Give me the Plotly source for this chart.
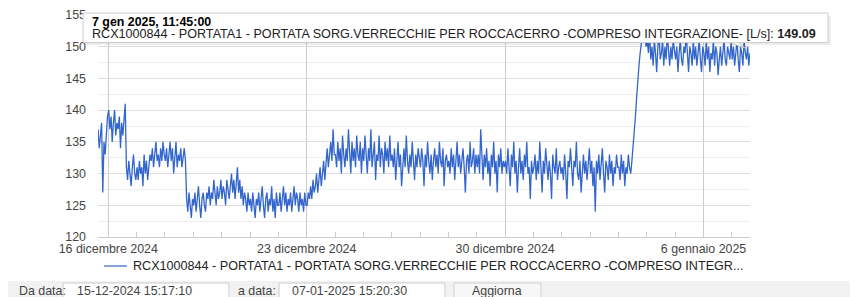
import plotly.graph_objects as go
import pandas as pd

# ---- data (hourly readings, L/s) ----
dic15 = [137, 134, 136, 138, 127, 135, 133, 136, 139]
dic16 = [140, 137, 139, 135, 138, 140, 136, 138, 137, 139, 134, 138, 136, 139, 141,
         131, 129, 132, 130, 128, 131, 133, 130, 129]
dic17 = [131, 129, 132, 130, 131, 128, 133, 130, 132, 129, 131, 133, 132, 134, 131, 133,
         135, 132, 133, 131, 134, 132, 135, 133]
dic18 = [132, 134, 131, 133, 135, 132, 134, 130, 133, 135, 131, 133, 132, 134, 131, 133,
         134, 132, 126, 124, 127, 125, 123, 126]
dic19 = [125, 127, 124, 126, 128, 125, 123, 126, 127, 125, 124, 127, 126, 128, 125, 127,
         126, 129, 127, 125, 128, 126, 127, 129]
dic20 = [126, 128, 127, 125, 129, 127, 126, 128, 130, 127, 129, 126, 128, 131, 127, 129,
         126, 128, 125, 127, 126, 124, 127, 125]
dic21 = [126, 124, 127, 125, 123, 126, 125, 127, 124, 126, 128, 125, 123, 126, 127, 124,
         126, 125, 128, 124, 126, 123, 127, 125]
dic22 = [125, 127, 124, 126, 128, 125, 127, 124, 126, 125, 127, 124, 126, 128, 125, 127,
         126, 124, 127, 125, 126, 124, 127, 125]
dic23 = [125, 127, 126, 128, 126, 129, 127, 128, 130, 127, 129, 131, 128, 130, 132, 129,
         131, 134, 131, 133, 135, 132, 137, 133]
dic24 = [133, 131, 135, 132, 134, 130, 136, 133, 131, 134, 132, 137, 133, 130, 135, 132,
         134, 131, 136, 133, 132, 135, 130, 134]
dic25 = [132, 136, 133, 130, 134, 132, 137, 131, 133, 135, 129, 133, 132, 136, 131, 134,
         133, 130, 135, 132, 134, 131, 136, 132]
dic26 = [133, 131, 134, 129, 132, 135, 131, 133, 128, 132, 134, 131, 136, 132, 130, 133,
         131, 135, 132, 129, 133, 131, 134, 132]
dic27 = [131, 134, 132, 128, 133, 131, 135, 132, 130, 133, 129, 132, 134, 131, 133, 130,
         135, 132, 131, 134, 128, 132, 133, 131]
dic28 = [132, 130, 134, 131, 133, 129, 132, 135, 131, 133, 130, 132, 134, 131, 127, 132,
         133, 130, 135, 131, 132, 134, 130, 133]
dic29 = [131, 133, 130, 137, 132, 129, 133, 131, 134, 130, 132, 128, 133, 131, 135, 130,
         132, 127, 133, 131, 134, 130, 132, 131]
dic30 = [132, 130, 134, 131, 128, 133, 131, 135, 130, 132, 127, 131, 134, 130, 132, 129,
         133, 131, 135, 130, 131, 126, 132, 130]
dic31 = [131, 133, 129, 132, 130, 135, 131, 127, 132, 130, 134, 131, 129, 132, 130, 126,
         133, 131, 130, 134, 129, 131, 132, 130]
gen01 = [131, 129, 133, 130, 126, 132, 131, 134, 130, 128, 132, 131, 135, 130, 129, 132,
         127, 131, 133, 130, 132, 129, 131, 134]
gen02 = [130, 132, 128, 131, 124, 132, 130, 133, 129, 131, 134, 130, 127, 132, 131, 129,
         133, 130, 132, 128, 131, 130, 133, 131]
gen03 = [131, 129, 133, 130, 132, 128, 131, 130, 133, 131, 130, 132, 134, 137, 139, 142,
         145, 147, 149, 151, 152, 151, 152, 150]
gen04 = [151, 149, 152, 148, 150, 147, 151, 149, 146, 150, 152, 148, 149, 151, 147, 150,
         148, 152, 149, 147, 150, 148, 151, 149]
gen05 = [148, 150, 146, 149, 151, 148, 147, 150, 149, 152, 148, 146, 150, 149, 147, 151,
         148, 150, 147, 149, 151, 148, 146, 150]
gen06 = [149, 147, 151, 148, 150, 146, 149, 148, 151, 147, 150, 149, 145.5, 148, 150, 147,
         149, 151, 148, 147, 150, 149, 148, 151]
gen07 = [148, 150, 147, 149, 151, 148, 146, 150, 149, 147, 151, 149.09, 148, 150, 147, 149]

portata = (dic15 + dic16 + dic17 + dic18 + dic19 + dic20 + dic21 + dic22 + dic23 + dic24 +
           dic25 + dic26 + dic27 + dic28 + dic29 + dic30 + dic31 + gen01 + gen02 + gen03 +
           gen04 + gen05 + gen06 + gen07)
tempi = pd.date_range("2024-12-15 15:20", periods=len(portata), freq="h")

tick_vals = ["2024-12-16", "2024-12-23", "2024-12-30", "2025-01-06"]
tick_text = ["16 dicembre 2024", "23 dicembre 2024", "30 dicembre 2024", "6 gennaio 2025"]

serie_nome = "RCX1000844 - PORTATA1 - PORTATA SORG.VERRECCHIE PER ROCCACERRO -COMPRESO INTEGRAZIONE- [L/s]"
legenda_nome = "RCX1000844 - PORTATA1 - PORTATA SORG.VERRECCHIE PER ROCCACERRO -COMPRESO INTEGR..."
tooltip_data = "7 gen 2025, 11:45:00"
tooltip_val = "149.09"
da_data = "15-12-2024 15:17:10"
a_data = "07-01-2025 15:20:30"

# ---- layout geometry (page pixels; the page body has an 8px margin) ----
PAGE_W, PAGE_H = 858, 297
OFF = 8
W, H = PAGE_W - OFF, PAGE_H - OFF
L, R, T, B = 98, 750, 15, 237


def px(x):
    return (x - L) / (R - L)


def py(y):
    return (B - y) / (B - T)


FONT = "Arial, Liberation Sans, sans-serif"

fig = go.Figure()
fig.add_trace(go.Scatter(x=tempi, y=portata, mode="lines",
                         line=dict(color="#3366cc", width=1.3),
                         showlegend=False, hoverinfo="skip"))

shapes = []
annotations = []

# tooltip
shapes.append(dict(type="rect", xref="paper", yref="paper", layer="above",
                   x0=px(85), x1=px(831), y0=py(16), y1=py(45),
                   fillcolor="rgba(0,0,0,0.07)", line=dict(width=0)))
shapes.append(dict(type="path", xref="paper", yref="paper", layer="above",
                   path=f"M {px(728)},{py(42)} L {px(745)},{py(48)} L {px(738)},{py(42)} Z",
                   fillcolor="white", line=dict(color="#bbbbbb", width=1)))
shapes.append(dict(type="rect", xref="paper", yref="paper", layer="above",
                   x0=px(83), x1=px(828), y0=py(13), y1=py(42.5),
                   fillcolor="white", line=dict(color="#cccccc", width=1)))
annotations.append(dict(xref="paper", yref="paper", x=px(90), y=py(21.5), xanchor="left",
                        yanchor="middle", showarrow=False,
                        text=f"<b>{tooltip_data}</b>", font=dict(family=FONT, size=12.4, color="#000")))
annotations.append(dict(xref="paper", yref="paper", x=px(90), y=py(34), xanchor="left",
                        yanchor="middle", showarrow=False,
                        text=f"{serie_nome}: <b>{tooltip_val}</b>",
                        font=dict(family=FONT, size=12.6, color="#222")))

# legend
shapes.append(dict(type="line", xref="paper", yref="paper", layer="above",
                   x0=px(104), x1=px(127), y0=py(266), y1=py(266),
                   line=dict(color="#3366cc", width=1.2)))
annotations.append(dict(xref="paper", yref="paper", x=px(131), y=py(266), xanchor="left",
                        yanchor="middle", showarrow=False, text=legenda_nome,
                        font=dict(family=FONT, size=12.6, color="#222")))

# bottom form band
shapes.append(dict(type="rect", xref="paper", yref="paper", layer="above",
                   x0=px(0), x1=px(PAGE_W + 2), y0=py(281), y1=py(PAGE_H + 2),
                   fillcolor="#f2f2f2", line=dict(width=0)))
for x0, x1 in [(63, 229), (279, 445)]:
    shapes.append(dict(type="rect", xref="paper", yref="paper", layer="above",
                       x0=px(x0), x1=px(x1), y0=py(283), y1=py(PAGE_H + 3),
                       fillcolor="white", line=dict(color="#cccccc", width=1)))
shapes.append(dict(type="rect", xref="paper", yref="paper", layer="above",
                   x0=px(454), x1=px(541), y0=py(283), y1=py(PAGE_H + 3),
                   fillcolor="#f7f7f7", line=dict(color="#d0d0d0", width=1)))
for x, txt, anchor in [(17, "Da data:", "left"), (75, da_data, "left"),
                       (236, "a data:", "left"), (290, a_data, "left"),
                       (497, "Aggiorna", "center")]:
    annotations.append(dict(xref="paper", yref="paper", x=px(x), y=py(290.5), xanchor=anchor,
                            yanchor="middle", showarrow=False, text=txt,
                            font=dict(family=FONT, size=12.4, color="#444")))

fig.update_layout(
    width=W, height=H,
    margin=dict(l=L - OFF, r=PAGE_W - R, t=T - OFF, b=PAGE_H - B, autoexpand=False),
    paper_bgcolor="white", plot_bgcolor="white",
    font=dict(family=FONT, size=12, color="#444"),
    shapes=shapes, annotations=annotations,
    xaxis=dict(range=["2024-12-15 15:17:10", "2025-01-07 15:20:30"],
               tickmode="array", tickvals=tick_vals, ticktext=tick_text,
               showgrid=True, gridcolor="#cccccc", gridwidth=1,
               ticks="", showline=True, linecolor="#cccccc", linewidth=1,
               zeroline=False, tickfont=dict(size=12.4, color="#444"),
               minor=dict(tickmode="linear", tick0="2024-12-16", dtick=86400000,
                          ticks="inside", ticklen=5, tickcolor="#cccccc", showgrid=False)),
    yaxis=dict(range=[120, 155], tickmode="linear", tick0=120, dtick=5,
               showgrid=True, gridcolor="#dddddd", gridwidth=1, zeroline=False,
               ticks="", ticklabelstandoff=11, tickfont=dict(size=12.4, color="#444"),
               minor=dict(tickmode="linear", tick0=120, dtick=2.5, showgrid=True,
                          gridcolor="#eeeeee", ticks="")),
    hovermode=False,
)

fig.write_html("out.html")
